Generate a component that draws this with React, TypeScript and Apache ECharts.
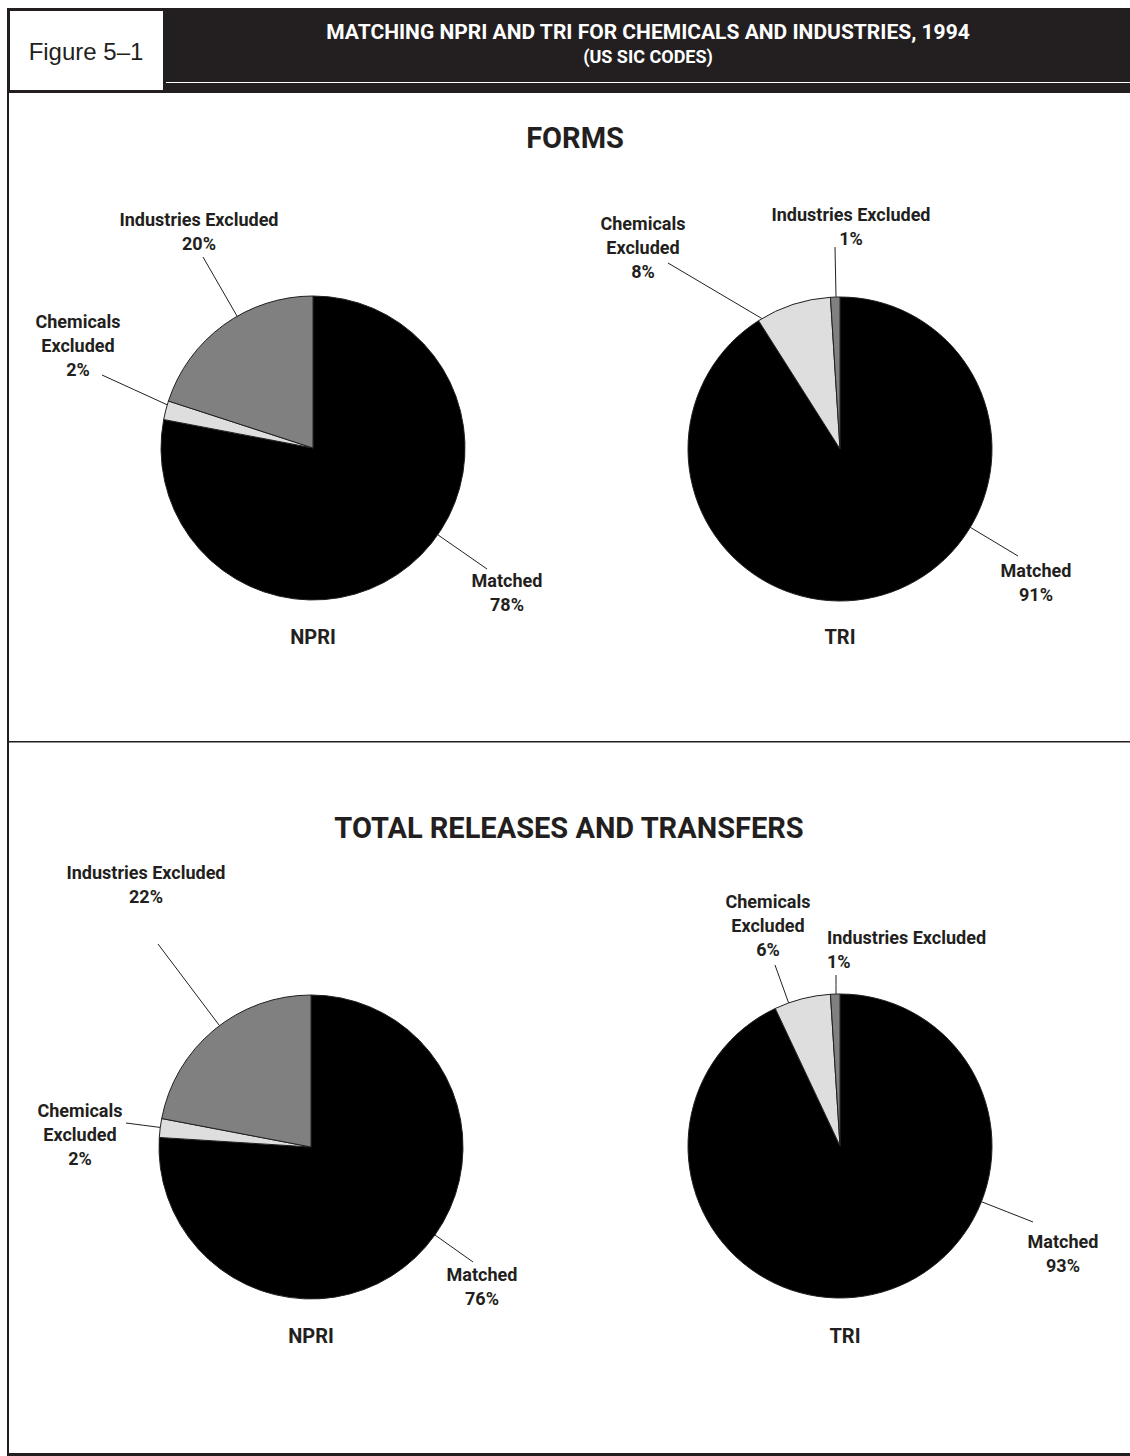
import React, { useEffect, useRef } from "react";
import * as echarts from "echarts";

// ---------- data ----------
const categories = ["Matched", "Chemicals Excluded", "Industries Excluded"];
const labelHeads = ["Matched", "Chemicals\nExcluded", "Industries Excluded"];
const formsNPRI = [78, 2, 20];
const formsTRI = [91, 8, 1];
const releasesNPRI = [76, 2, 22];
const releasesTRI = [93, 6, 1];
const pieNames = ["NPRI", "TRI", "NPRI", "TRI"];
const sectionTitles = ["FORMS", "TOTAL RELEASES AND TRANSFERS"];
const headerTitle = "MATCHING NPRI AND TRI FOR CHEMICALS AND INDUSTRIES, 1994";
const headerSub = "(US SIC CODES)";
const figureLabel = "Figure 5\u20131";

// ---------- style / layout ----------
const FONT = "Roboto, 'Noto Sans', sans-serif";
const FONT_PLAIN = "'Liberation Sans', Arial, sans-serif";
const INK = "#231f20";
const sliceColors = ["#000000", "#dedede", "#808080"];
const pieData = [formsNPRI, formsTRI, releasesNPRI, releasesTRI];
const pieCenters = [
  [313, 448],
  [840, 449],
  [311, 1147],
  [840, 1146],
];
const pieRadius = 152;
const captionPos = [
  [313, 637],
  [840, 637],
  [311, 1336],
  [845, 1336],
];
const sectionTitlePos = [
  [575, 138],
  [569, 828],
];
// per pie, per slice: [labelX, labelY, align, leaderEndX, leaderEndY]
const labelAnchors: any[][][] = [
  [
    [507, 592, "center", 487, 569],
    [78, 345, "center", 102, 375],
    [199, 231, "center", 203, 257],
  ],
  [
    [1036, 582, "center", 1018, 556],
    [643, 247, "center", 668, 263],
    [851, 226, "center", 835, 247],
  ],
  [
    [482, 1286, "center", 473, 1262],
    [80, 1134, "center", 126, 1123],
    [146, 884, "center", 158, 944],
  ],
  [
    [1063, 1253, "center", 1033, 1222],
    [768, 925, "center", 775, 965],
    [827, 949, "left", 836, 975],
  ],
];

function edgePoint(p: number, i: number, ex: number, ey: number) {
  const vals = pieData[p];
  const total = vals.reduce((s, v) => s + v, 0);
  let cum = 0;
  for (let k = 0; k < i; k++) cum += vals[k];
  const hi = 90 - (360 * cum) / total;
  const lo = 90 - (360 * (cum + vals[i])) / total;
  const [cx, cy] = pieCenters[p];
  let th = (Math.atan2(cy - ey, ex - cx) * 180) / Math.PI;
  const mid = (hi + lo) / 2;
  while (th - mid > 180) th -= 360;
  while (th - mid < -180) th += 360;
  const m = Math.min(1.5, (hi - lo) / 2);
  th = Math.max(lo + m, Math.min(hi - m, th));
  const rad = (th * Math.PI) / 180;
  return [cx + pieRadius * Math.cos(rad), cy - pieRadius * Math.sin(rad)];
}

export default function App() {
  const ref = useRef<HTMLDivElement>(null);

  useEffect(() => {
    if (!ref.current) return;
    const chart = echarts.init(ref.current, undefined, { renderer: "svg" });

    const series = pieData.map((vals, p) => ({
      type: "pie",
      name: pieNames[p],
      center: pieCenters[p],
      radius: pieRadius,
      startAngle: 90,
      clockwise: true,
      avoidLabelOverlap: false,
      silent: true,
      emphasis: { disabled: true },
      data: vals.map((v, i) => ({
        name: categories[i],
        value: v,
        itemStyle: { color: sliceColors[i] },
      })),
      itemStyle: { borderColor: INK, borderWidth: 1 },
      label: {
        show: true,
        position: "outside",
        color: INK,
        fontFamily: FONT,
        fontWeight: "bold",
        fontSize: 18,
        lineHeight: 24,
        formatter: (prm: any) => `${labelHeads[prm.dataIndex]}\n${prm.value}%`,
      },
      labelLine: {
        show: true,
        length: 5,
        length2: 5,
        lineStyle: { color: INK, width: 1 },
      },
      labelLayout: (params: any) => {
        const a = labelAnchors[p][params.dataIndex];
        const s = edgePoint(p, params.dataIndex, a[3], a[4]);
        const e = [a[3], a[4]];
        return {
          x: a[0],
          y: a[1],
          align: a[2],
          verticalAlign: "middle",
          labelLinePoints: [s, [(s[0] + e[0]) / 2, (s[1] + e[1]) / 2], e],
        };
      },
    }));

    const graphic: any[] = [
      // header band
      { type: "rect", shape: { x: 166, y: 8, width: 964, height: 74 }, style: { fill: INK } },
      { type: "rect", shape: { x: 166, y: 83, width: 964, height: 10 }, style: { fill: INK } },
      // figure box
      {
        type: "rect",
        shape: { x: 8.5, y: 9.5, width: 156, height: 82 },
        style: { fill: "#ffffff", stroke: INK, lineWidth: 3 },
      },
      // left border
      { type: "rect", shape: { x: 7, y: 93, width: 2, height: 1363 }, style: { fill: INK } },
      // divider
      { type: "rect", shape: { x: 7, y: 741, width: 1123, height: 1.5 }, style: { fill: INK } },
      // bottom band
      { type: "rect", shape: { x: 7, y: 1453, width: 1123, height: 3 }, style: { fill: INK } },
      {
        type: "text",
        x: 86,
        y: 51,
        style: {
          text: figureLabel,
          fill: INK,
          font: `24px ${FONT_PLAIN}`,
          textAlign: "center",
          textVerticalAlign: "middle",
        },
      },
      {
        type: "text",
        x: 648,
        y: 32,
        style: {
          text: headerTitle,
          fill: "#ffffff",
          font: `bold 21px ${FONT}`,
          textAlign: "center",
          textVerticalAlign: "middle",
        },
      },
      {
        type: "text",
        x: 648,
        y: 56,
        style: {
          text: headerSub,
          fill: "#ffffff",
          font: `bold 18px ${FONT}`,
          textAlign: "center",
          textVerticalAlign: "middle",
        },
      },
      ...sectionTitles.map((t, k) => ({
        type: "text",
        x: sectionTitlePos[k][0],
        y: sectionTitlePos[k][1],
        style: {
          text: t,
          fill: INK,
          font: `bold 29px ${FONT}`,
          textAlign: "center",
          textVerticalAlign: "middle",
        },
      })),
      ...pieNames.map((t, k) => ({
        type: "text",
        x: captionPos[k][0],
        y: captionPos[k][1],
        style: {
          text: t,
          fill: INK,
          font: `bold 20px ${FONT}`,
          textAlign: "center",
          textVerticalAlign: "middle",
        },
      })),
    ];

    chart.setOption({
      animation: false,
      backgroundColor: "#ffffff",
      graphic,
      series,
    } as any);

    return () => chart.dispose();
  }, []);

  return (
    <div
      ref={ref}
      style={{ position: "absolute", left: 0, top: 0, width: 1130, height: 1456 }}
    />
  );
}
